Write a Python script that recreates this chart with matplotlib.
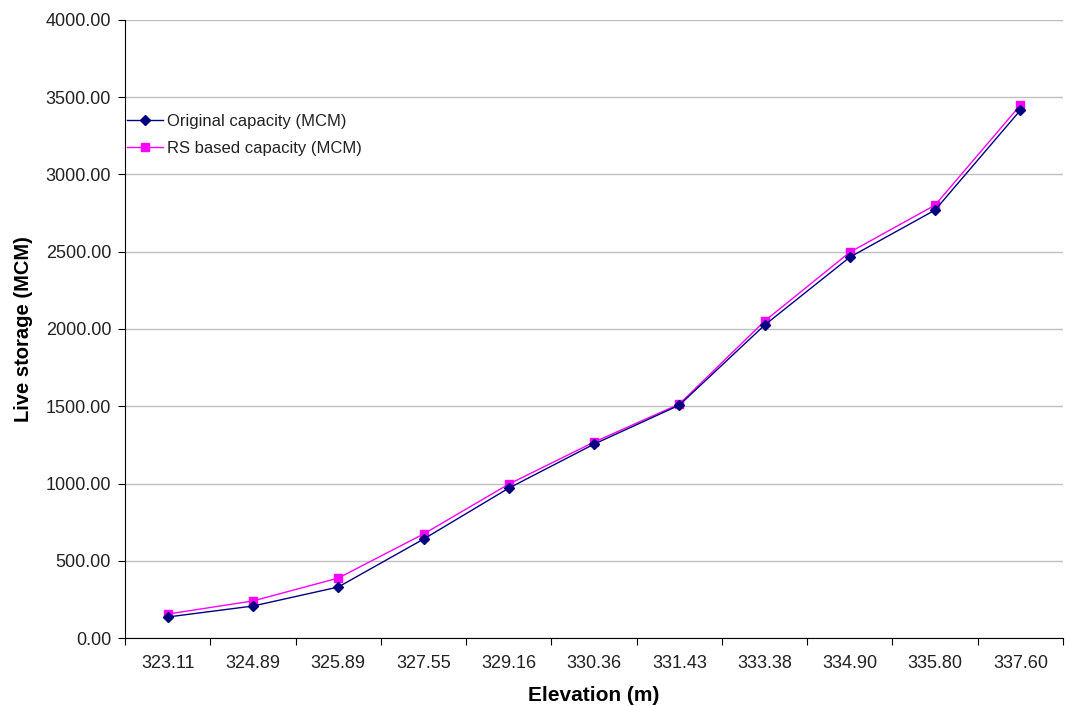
import numpy as np
import matplotlib.pyplot as plt
from matplotlib.ticker import FixedLocator, FuncFormatter

# Datos
elevaciones = ['323.11', '324.89', '325.89', '327.55', '329.16', '330.36',
               '331.43', '333.38', '334.90', '335.80', '337.60']
capacidad_original = [136, 207, 330, 640, 970, 1255, 1507, 2025, 2465, 2770, 3416]
capacidad_rs = [155, 240, 388, 673, 996, 1268, 1514, 2051, 2497, 2802, 3449]

plt.rcParams['font.family'] = ['Liberation Sans', 'DejaVu Sans']

fig = plt.figure(figsize=(10.69, 7.06), dpi=100)
ax = fig.add_axes([0.117, 0.0963, 0.8774, 0.8754])

x = np.arange(len(elevaciones))
ax.plot(x, capacidad_original, color='#000080', marker='D', markersize=5,
        linewidth=1.0, label='Original capacity (MCM)', zorder=3)
ax.plot(x, capacidad_rs, color='#FF00FF', marker='s', markersize=6,
        linewidth=1.0, label='RS based capacity (MCM)', zorder=2)

ax.set_xlim(-0.5, len(elevaciones) - 0.5)
ax.set_ylim(0, 4000)
ax.set_yticks(np.arange(0, 4001, 500))
ax.yaxis.set_major_formatter(FuncFormatter(lambda v, p: f'{v:.2f}'))

# Ticks entre categorías, etiquetas centradas (estilo Excel)
ax.xaxis.set_major_locator(FixedLocator(np.arange(-0.5, len(elevaciones), 1.0)))
ax.xaxis.set_minor_locator(FixedLocator(x))
ax.set_xticklabels([''] * len(ax.get_xticks()))
ax.set_xticklabels(elevaciones, minor=True)
ax.tick_params(axis='x', which='major', length=5, direction='out', color='black')
ax.tick_params(axis='x', which='minor', length=0, pad=12, labelsize=13, labelcolor='#222222')
ax.tick_params(axis='y', length=5, direction='out', labelsize=13, pad=5, labelcolor='#222222')

ax.grid(axis='y', color='#C0C0C0', linewidth=1.0)
ax.set_axisbelow(True)
for lado in ['top', 'right']:
    ax.spines[lado].set_visible(False)
ax.spines['left'].set_color('black')
ax.spines['bottom'].set_color('black')

ax.set_xlabel('Elevation (m)', fontsize=15, fontweight='bold', labelpad=10)
ax.set_ylabel('Live storage (MCM)', fontsize=14.5, fontweight='bold', labelpad=9)

ax.legend(loc='center left', bbox_to_anchor=(0.002, 0.8135), frameon=False,
          fontsize=12, handlelength=2.15, handletextpad=0.25, labelspacing=0.72,
          borderpad=0, borderaxespad=0, labelcolor='#222222')

plt.savefig('out.png', dpi=100)
